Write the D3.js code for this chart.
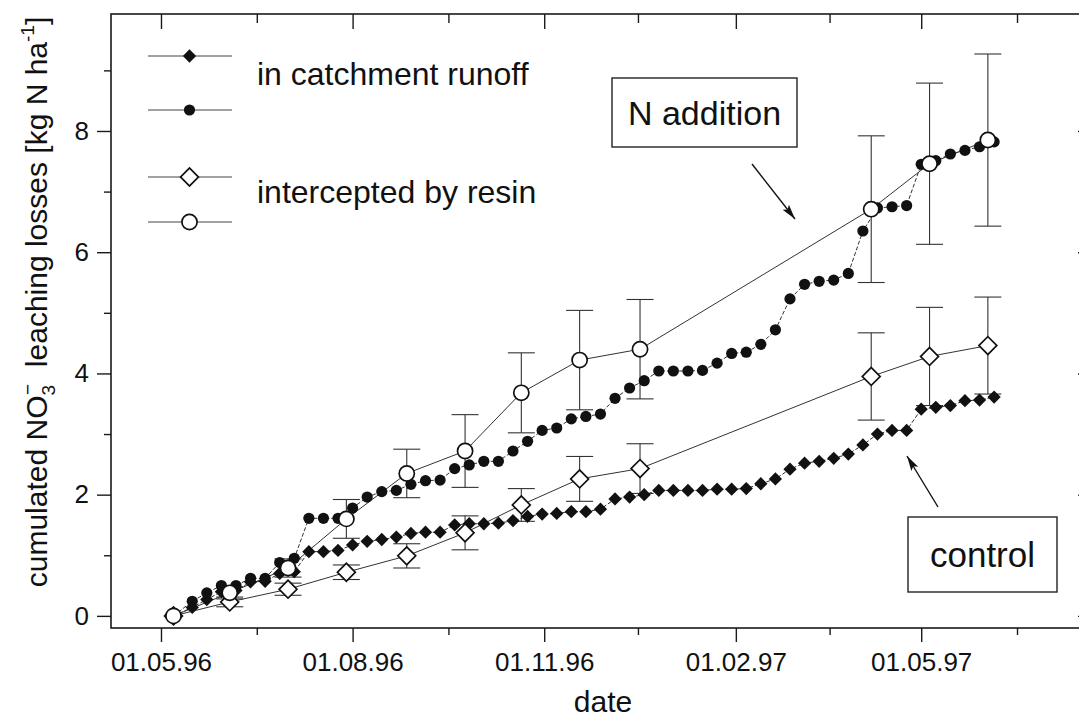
<!DOCTYPE html>
<html>
<head>
<meta charset="utf-8">
<script src="https://cdn.jsdelivr.net/npm/d3@7"></script>
<style>
  body { margin: 0; background: #fff; }
  svg { display: block; }
  text { font-family: "Liberation Sans", Arial, sans-serif; fill: #111; }
</style>
</head>
<body>
<svg id="chart" width="1079" height="723"></svg>
<script>
// Weekly catchment runoff samples (days after 01.05.96)
const runoffDays = [6, 15, 22, 29, 36, 43, 50, 57, 64, 71, 78, 85, 92, 99, 106, 113, 120, 127, 134, 141,
    148, 155, 162, 169, 176, 183, 190, 197, 204, 211, 218, 225, 232, 239, 246, 253, 260, 267, 274, 281,
    288, 295, 302, 309, 316, 323, 330, 337, 344, 351, 358, 365, 372, 379, 386, 393, 400];
const runoffNAddition = [0, 0.24, 0.38, 0.50, 0.50, 0.62, 0.62, 0.88, 0.95, 1.61, 1.61, 1.61, 1.78, 1.96, 2.05, 2.07,
    2.17, 2.23, 2.24, 2.43, 2.49, 2.55, 2.55, 2.72, 2.88, 3.06, 3.10, 3.25, 3.29, 3.33, 3.59, 3.76, 3.88, 4.04,
    4.04, 4.04, 4.05, 4.17, 4.33, 4.35, 4.48, 4.72, 5.23, 5.47, 5.52, 5.54, 5.65, 6.35, 6.73, 6.75, 6.77, 7.45,
    7.51, 7.62, 7.68, 7.74, 7.82];
const runoffControl = [0, 0.14, 0.27, 0.40, 0.42, 0.56, 0.57, 0.70, 0.73, 1.06, 1.06, 1.08, 1.17, 1.23, 1.26, 1.30,
    1.36, 1.38, 1.38, 1.50, 1.52, 1.52, 1.53, 1.57, 1.64, 1.68, 1.69, 1.72, 1.72, 1.76, 1.93, 1.96, 2.00, 2.07,
    2.07, 2.07, 2.07, 2.09, 2.09, 2.10, 2.18, 2.26, 2.42, 2.52, 2.55, 2.60, 2.67, 2.82, 3.00, 3.06, 3.06, 3.41,
    3.44, 3.47, 3.55, 3.56, 3.61];

// Resin samples with error
const resinDays = [6, 33, 61, 89, 118, 146, 173, 201, 230, 341, 369, 397];
const resinNAddition = [0, 0.38, 0.79, 1.60, 2.35, 2.72, 3.68, 4.22, 4.40, 6.71, 7.46, 7.85];
const resinNAdditionErr = [0, 0.10, 0.15, 0.32, 0.40, 0.60, 0.66, 0.82, 0.82, 1.21, 1.33, 1.42];
const resinControl = [0, 0.23, 0.44, 0.72, 0.99, 1.37, 1.83, 2.26, 2.43, 3.95, 4.28, 4.46];
const resinControlErr = [0, 0.08, 0.10, 0.12, 0.20, 0.28, 0.27, 0.37, 0.41, 0.72, 0.81, 0.80];

// Axis ticks
const xMajorTicks = ["1996-05-01", "1996-08-01", "1996-11-01", "1997-02-01", "1997-05-01"];
const xMinorTicks = ["1996-06-16", "1996-09-16", "1996-12-16", "1997-03-18", "1997-06-16"];
const yMajorTicks = [0, 2, 4, 6, 8];
const yMinorTicks = [1, 3, 5, 7, 9];

const start = new Date(1996, 4, 1);
const toDate = d => d3.timeDay.offset(start, d);
const parse = d3.timeParse("%Y-%m-%d");

const svg = d3.select('#chart');
const plotLeft = 111, plotRight = 1092, plotTop = 14, plotBottom = 628;

const x = d3.scaleTime()
    .domain([new Date(1996, 3, 7), new Date(1997, 6, 22)])
    .range([plotLeft, plotRight]);
const y = d3.scaleLinear()
    .domain([-0.2, 9.93])
    .range([plotBottom, plotTop]);

const plot = svg.append('g');

// frame
plot.append('rect')
    .attr('x', plotLeft).attr('y', plotTop)
    .attr('width', plotRight - plotLeft).attr('height', plotBottom - plotTop)
    .attr('fill', 'none').attr('stroke', '#1a1a1a').attr('stroke-width', 1.6);

function styleAxis(g) {
    g.select('.domain').remove();
    g.selectAll('line').attr('stroke', '#1a1a1a').attr('stroke-width', 1.4);
    g.selectAll('text').style('font-size', '26px').attr('fill', '#111');
}

const fmt = d3.timeFormat("%d.%m.%y");

// bottom axis
svg.append('g').attr('transform', `translate(0,${plotBottom})`)
    .call(d3.axisBottom(x).tickValues(xMajorTicks.map(parse)).tickFormat(fmt).tickSize(14).tickPadding(11))
    .call(styleAxis);
svg.append('g').attr('transform', `translate(0,${plotBottom})`)
    .call(d3.axisBottom(x).tickValues(xMinorTicks.map(parse)).tickFormat('').tickSize(7))
    .call(styleAxis);

// top axis (inward ticks)
svg.append('g').attr('transform', `translate(0,${plotTop})`)
    .call(d3.axisTop(x).tickValues(xMajorTicks.map(parse)).tickFormat('').tickSize(-15))
    .call(styleAxis);
svg.append('g').attr('transform', `translate(0,${plotTop})`)
    .call(d3.axisTop(x).tickValues(xMinorTicks.map(parse)).tickFormat('').tickSize(-9))
    .call(styleAxis);

// left axis
svg.append('g').attr('transform', `translate(${plotLeft},0)`)
    .call(d3.axisLeft(y).tickValues(yMajorTicks).tickFormat(d3.format('d')).tickSize(14).tickPadding(8))
    .call(styleAxis);
svg.append('g').attr('transform', `translate(${plotLeft},0)`)
    .call(d3.axisLeft(y).tickValues(yMinorTicks).tickFormat('').tickSize(7))
    .call(styleAxis);

// right axis (inward ticks)
svg.append('g').attr('transform', `translate(${plotRight},0)`)
    .call(d3.axisRight(y).tickValues(yMajorTicks).tickFormat('').tickSize(-14))
    .call(styleAxis);
svg.append('g').attr('transform', `translate(${plotRight},0)`)
    .call(d3.axisRight(y).tickValues(yMinorTicks).tickFormat('').tickSize(-7))
    .call(styleAxis);

// axis titles
svg.append('text')
    .attr('x', 603).attr('y', 712)
    .attr('text-anchor', 'middle')
    .style('font-size', '30px')
    .text('date');

const yTitle = svg.append('text')
    .attr('transform', 'translate(47,302) rotate(-90)')
    .attr('text-anchor', 'middle')
    .style('font-size', '30px');
yTitle.append('tspan').text('cumulated NO');
yTitle.append('tspan').attr('dy', 8).style('font-size', '19px').text('3');
yTitle.append('tspan').attr('dy', -21).attr('dx', -10).style('font-size', '19px').text('\u2212');
yTitle.append('tspan').attr('dy', 13).text('\u00a0 leaching losses [kg N ha');
yTitle.append('tspan').attr('dy', -13).style('font-size', '19px').text('-1');
yTitle.append('tspan').attr('dy', 13).text(']');

// build series
const nAddRun = runoffDays.map((d, i) => ({ date: toDate(d), v: runoffNAddition[i] }));
const ctrlRun = runoffDays.map((d, i) => ({ date: toDate(d), v: runoffControl[i] }));
const nAddResin = resinDays.map((d, i) => ({ date: toDate(d), v: resinNAddition[i], e: resinNAdditionErr[i] }));
const ctrlResin = resinDays.map((d, i) => ({ date: toDate(d), v: resinControl[i], e: resinControlErr[i] }));

const line = d3.line().x(d => x(d.date)).y(d => y(d.v));

const diamond = (size) => d3.symbol().type(d3.symbolSquare).size(size)();

// connecting lines
[nAddResin, ctrlResin].forEach(s => {
    plot.append('path').datum(s).attr('d', line)
        .attr('fill', 'none').attr('stroke', '#333').attr('stroke-width', 1);
});
[nAddRun, ctrlRun].forEach(s => {
    plot.append('path').datum(s).attr('d', line)
        .attr('fill', 'none').attr('stroke', '#333').attr('stroke-width', 1)
        .attr('stroke-dasharray', '4,2');
});

// error bars
[nAddResin, ctrlResin].forEach(s => {
    const eb = plot.append('g').selectAll('g').data(s.filter(d => d.e > 0)).join('g')
        .attr('stroke', '#333').attr('stroke-width', 1.1);
    eb.append('line')
        .attr('x1', d => x(d.date)).attr('x2', d => x(d.date))
        .attr('y1', d => y(d.v - d.e)).attr('y2', d => y(d.v + d.e));
    eb.append('line')
        .attr('x1', d => x(d.date) - 13.5).attr('x2', d => x(d.date) + 13.5)
        .attr('y1', d => y(d.v + d.e)).attr('y2', d => y(d.v + d.e));
    eb.append('line')
        .attr('x1', d => x(d.date) - 13.5).attr('x2', d => x(d.date) + 13.5)
        .attr('y1', d => y(d.v - d.e)).attr('y2', d => y(d.v - d.e));
});

// filled markers
plot.append('g').selectAll('path').data(ctrlRun).join('path')
    .attr('d', diamond(88))
    .attr('transform', d => `translate(${x(d.date)},${y(d.v)}) rotate(45)`)
    .attr('fill', '#111');
plot.append('g').selectAll('circle').data(nAddRun).join('circle')
    .attr('cx', d => x(d.date)).attr('cy', d => y(d.v)).attr('r', 5.6)
    .attr('fill', '#111');

// open markers
plot.append('g').selectAll('path').data(ctrlResin).join('path')
    .attr('d', diamond(160))
    .attr('transform', d => `translate(${x(d.date)},${y(d.v)}) rotate(45)`)
    .attr('fill', '#fff').attr('stroke', '#111').attr('stroke-width', 1.7);
plot.append('g').selectAll('circle').data(nAddResin).join('circle')
    .attr('cx', d => x(d.date)).attr('cy', d => y(d.v)).attr('r', 7.6)
    .attr('fill', '#fff').attr('stroke', '#111').attr('stroke-width', 1.7);

// legend
const legendItems = [
    { y: 56, shape: 'diamond', fill: '#111' },
    { y: 110, shape: 'circle', fill: '#111' },
    { y: 177, shape: 'diamond', fill: '#fff' },
    { y: 222, shape: 'circle', fill: '#fff' }
];
const legend = svg.append('g');
legendItems.forEach(it => {
    legend.append('line').attr('x1', 148).attr('x2', 232).attr('y1', it.y).attr('y2', it.y)
        .attr('stroke', '#444').attr('stroke-width', 1);
    const open = it.fill === '#fff';
    if (it.shape === 'diamond') {
        legend.append('path').attr('d', diamond(open ? 160 : 88))
            .attr('transform', `translate(189.5,${it.y}) rotate(45)`)
            .attr('fill', it.fill).attr('stroke', '#111').attr('stroke-width', open ? 1.7 : 0);
    } else {
        legend.append('circle').attr('cx', 189.5).attr('cy', it.y).attr('r', open ? 7.6 : 5.6)
            .attr('fill', it.fill).attr('stroke', '#111').attr('stroke-width', open ? 1.7 : 0);
    }
});
legend.append('text').attr('x', 257).attr('y', 85).style('font-size', '32px').text('in catchment runoff');
legend.append('text').attr('x', 257).attr('y', 203).style('font-size', '32px').text('intercepted by resin');

// annotation boxes
function noteBox(x0, y0, w, h, label, size, base) {
    svg.append('rect').attr('x', x0).attr('y', y0).attr('width', w).attr('height', h)
        .attr('fill', '#fff').attr('stroke', '#222').attr('stroke-width', 1.4);
    svg.append('text').attr('x', x0 + w / 2).attr('y', base).attr('text-anchor', 'middle')
        .style('font-size', size + 'px').text(label);
}
noteBox(612, 78, 185, 69, 'N addition', 34, 125);
noteBox(908, 517, 149, 75, 'control', 35, 567);

// arrows
svg.append('defs').append('marker')
    .attr('id', 'arrow').attr('markerUnits', 'userSpaceOnUse')
    .attr('markerWidth', 16).attr('markerHeight', 10)
    .attr('refX', 15).attr('refY', 5).attr('orient', 'auto')
    .append('path').attr('d', 'M0,1 L15,5 L0,9 L3,5 z').attr('fill', '#111');
svg.append('line').attr('x1', 752).attr('y1', 164).attr('x2', 795).attr('y2', 219)
    .attr('stroke', '#111').attr('stroke-width', 1.4).attr('marker-end', 'url(#arrow)');
svg.append('line').attr('x1', 938).attr('y1', 507).attr('x2', 907).attr('y2', 456)
    .attr('stroke', '#111').attr('stroke-width', 1.4).attr('marker-end', 'url(#arrow)');
</script>
</body>
</html>
